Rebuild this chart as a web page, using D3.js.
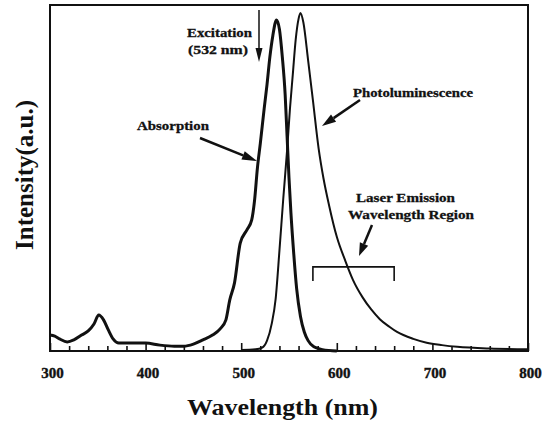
<!DOCTYPE html>
<html>
<head>
<meta charset="utf-8">
<script src="https://cdn.jsdelivr.net/npm/d3@7"></script>
<style>
  body { margin: 0; background: #fff; }
</style>
</head>
<body>
<div id="chart"></div>
<script>
// Absorption spectrum (nm, arbitrary units)
const absWavelength = [300, 305, 310, 318, 325, 333, 340, 346, 351, 356, 361, 366, 372, 385, 400, 415, 430, 440, 450, 460, 470, 478, 484, 488, 493, 499, 506, 511, 514, 517, 520, 524, 527, 530, 533, 537, 540, 543, 546, 548, 550, 552, 555, 558, 562, 566, 570, 576, 585, 600];
const absIntensity  = [0.046, 0.043, 0.035, 0.026, 0.032, 0.046, 0.058, 0.078, 0.104, 0.09, 0.061, 0.035, 0.023, 0.023, 0.023, 0.017, 0.014, 0.014, 0.02, 0.032, 0.046, 0.064, 0.09, 0.147, 0.197, 0.312, 0.35, 0.379, 0.436, 0.53, 0.6, 0.7, 0.77, 0.85, 0.91, 0.957, 0.93, 0.85, 0.74, 0.62, 0.5, 0.4, 0.28, 0.18, 0.1, 0.055, 0.03, 0.012, 0.004, 0.0];

// Photoluminescence spectrum
const plWavelength = [500, 515, 522, 527, 532, 536, 540, 544, 548, 551, 554, 557, 560, 562, 565, 570, 575, 581, 586, 592, 600, 609, 617, 627, 636, 645, 655, 663, 680, 694, 710, 726, 760, 800];
const plIntensity  = [0.003, 0.005, 0.01, 0.03, 0.08, 0.15, 0.29, 0.44, 0.58, 0.7, 0.8, 0.9, 0.96, 0.977, 0.95, 0.84, 0.725, 0.585, 0.5, 0.42, 0.33, 0.26, 0.205, 0.155, 0.12, 0.092, 0.07, 0.055, 0.035, 0.024, 0.017, 0.012, 0.007, 0.005];

// Axis ticks
const xTicks = [300, 320, 340, 360, 380, 400, 420, 440, 460, 480, 500, 520, 540, 560, 580, 600, 620, 640, 660, 680, 700, 720, 740, 760, 780, 800];
const xTickLabels = [300, 400, 500, 600, 700, 800];

const W = 547, H = 427;
const margin = { top: 5, right: 19, bottom: 76, left: 50 };
const width = W - margin.left - margin.right;
const height = H - margin.top - margin.bottom;
const serif = "'Liberation Serif', 'Times New Roman', serif";

const svg = d3.select("#chart").append("svg")
    .attr("width", W)
    .attr("height", H);

const g = svg.append("g")
    .attr("transform", `translate(${margin.left},${margin.top})`);

// Scales
const x = d3.scaleLinear().domain([300, 800]).range([0, width]);
const y = d3.scaleLinear().domain([0, 1]).range([height, 0]);

// Bottom axis: ticks pointing inward, longer at each 100 nm
const xAxis = g.append("g")
    .attr("transform", `translate(0,${height})`)
    .call(d3.axisBottom(x)
        .tickValues(xTicks)
        .tickSizeInner(-5)
        .tickSizeOuter(0)
        .tickFormat(d => xTickLabels.includes(d) ? d : ""));
xAxis.select(".domain").remove();
xAxis.selectAll(".tick line")
    .attr("stroke", "#111")
    .attr("stroke-width", 1.6)
    .attr("y2", d => xTickLabels.includes(d) ? -8 : -5);
xAxis.selectAll(".tick text")
    .attr("y", 27)
    .attr("dy", 0)
    .attr("dx", 2)
    .attr("fill", "#111")
    .attr("stroke", "#111")
    .attr("stroke-width", 0.4)
    .style("font-family", serif)
    .style("font-weight", "bold")
    .style("font-size", "15px");

// Frame
g.append("rect")
    .attr("width", width)
    .attr("height", height)
    .attr("fill", "none")
    .attr("stroke", "#111")
    .attr("stroke-width", 2);

// Curves
const line = d3.line()
    .x(d => x(d[0]))
    .y(d => y(d[1]))
    .curve(d3.curveMonotoneX);

g.append("path")
    .datum(absWavelength.map((w, i) => [w, absIntensity[i]]))
    .attr("d", line)
    .attr("fill", "none")
    .attr("stroke", "#111")
    .attr("stroke-width", 3)
    .attr("stroke-linejoin", "round");

g.append("path")
    .datum(plWavelength.map((w, i) => [w, plIntensity[i]]))
    .attr("d", line)
    .attr("fill", "none")
    .attr("stroke", "#111")
    .attr("stroke-width", 2)
    .attr("stroke-linejoin", "round");

// Axis titles
svg.append("text")
    .attr("x", 187)
    .attr("y", 415)
    .attr("textLength", 191)
    .attr("lengthAdjust", "spacingAndGlyphs")
    .style("font-family", serif)
    .style("font-weight", "bold")
    .style("font-size", "24px")
    .attr("fill", "#111")
    .text("Wavelength (nm)");

svg.append("text")
    .attr("transform", "translate(33,250) rotate(-90)")
    .attr("textLength", 150)
    .attr("lengthAdjust", "spacingAndGlyphs")
    .style("font-family", serif)
    .style("font-weight", "bold")
    .style("font-size", "25px")
    .attr("fill", "#111")
    .text("Intensity(a.u.)");

// Annotations
function label(txt, x0, x1, base) {
    svg.append("text")
        .attr("x", x0)
        .attr("y", base)
        .attr("textLength", x1 - x0)
        .attr("lengthAdjust", "spacingAndGlyphs")
        .style("font-family", serif)
        .style("font-weight", "bold")
        .style("font-size", "13px")
        .attr("fill", "#111")
        .attr("stroke", "#111")
        .attr("stroke-width", 0.3)
        .text(txt);
}

function arrow(x1, y1, x2, y2, sw, headLen, headW) {
    const dx = x2 - x1, dy = y2 - y1;
    const len = Math.hypot(dx, dy);
    const ux = dx / len, uy = dy / len;
    const bx = x2 - ux * headLen, by = y2 - uy * headLen;
    svg.append("line")
        .attr("x1", x1).attr("y1", y1)
        .attr("x2", bx).attr("y2", by)
        .attr("stroke", "#111")
        .attr("stroke-width", sw);
    svg.append("path")
        .attr("d", `M${x2},${y2}L${bx - uy * headW / 2},${by + ux * headW / 2}L${bx + uy * headW / 2},${by - ux * headW / 2}Z`)
        .attr("fill", "#111");
}

label("Excitation", 187, 252, 37);
label("(532 nm)", 188, 248, 54);
arrow(259, 10, 259, 62, 1.5, 14, 7);

label("Absorption", 137, 209, 130);
arrow(200, 138, 257, 161, 2.5, 15, 9);

label("Photoluminescence", 353, 473, 97);
arrow(360, 100, 322, 126, 2.5, 14, 9);

label("Laser Emission", 356, 455, 202);
label("Wavelength Region", 348, 474, 219);
arrow(372, 225, 359, 256, 2.5, 13, 9);

// Bracket marking the laser emission region
const brY = y(0.243) + margin.top;
svg.append("path")
    .attr("d", `M${x(575) + margin.left},${brY + 14}V${brY}H${x(660) + margin.left}V${brY + 14}`)
    .attr("fill", "none")
    .attr("stroke", "#111")
    .attr("stroke-width", 1.6);
</script>
</body>
</html>
